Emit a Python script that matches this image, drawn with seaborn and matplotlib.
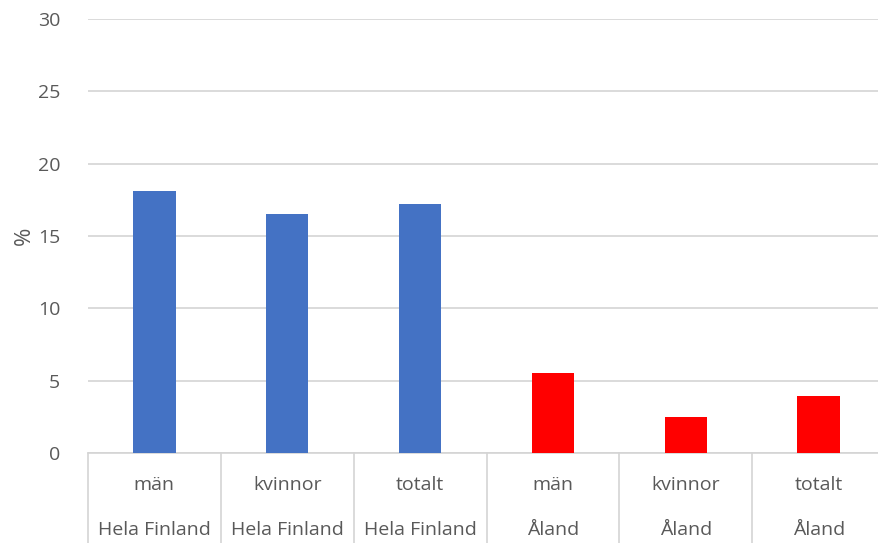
import matplotlib
matplotlib.use("Agg")
import matplotlib.pyplot as plt
import matplotlib.transforms as mtransforms
import pandas as pd
import seaborn as sns

# values
groups = ["män", "kvinnor", "totalt", "män", "kvinnor", "totalt"]
regions = ["Hela Finland", "Hela Finland", "Hela Finland", "Åland", "Åland", "Åland"]
values = [18.1, 16.5, 17.2, 5.5, 2.5, 3.9]
yticks = [0, 5, 10, 15, 20, 25, 30]

COLORS = {"Hela Finland": "#4472C4", "Åland": "#FF0000"}
GREY = "#595959"
FS = 14

sns.set_style("white")
plt.rcParams["font.family"] = ["Open Sans", "DejaVu Sans"]

df = pd.DataFrame({"pos": [str(i) for i in range(len(values))],
                   "grupp": groups, "region": regions, "value": values})

fig = plt.figure(figsize=(8.79, 5.43), dpi=100)
ax = fig.add_axes([0.100, 0.166, 0.907, 0.799])

sns.barplot(data=df, x="pos", y="value", hue="region", palette=COLORS,
            dodge=False, width=0.32, legend=False, ax=ax, zorder=3,
            edgecolor="none", saturation=1)

ax.set_ylim(0, 30)
ax.set_xlim(-0.5, len(values) - 0.5)
ax.set_yticks(yticks)
ax.set_yticklabels([str(t) for t in yticks], fontsize=FS, color=GREY)
ax.grid(axis="y", color="#d4d4d4", linewidth=1.2, zorder=0)
ax.tick_params(axis="y", length=0, pad=20)
ax.tick_params(axis="x", length=0, labelbottom=False)
for side in ["top", "right", "left"]:
    ax.spines[side].set_visible(False)
ax.spines["bottom"].set_color("#d4d4d4")
ax.spines["bottom"].set_linewidth(1.2)
ax.set_xlabel("")
ax.set_ylabel("%", fontsize=16, color=GREY, labelpad=2)

# two-level category axis
trans = mtransforms.blended_transform_factory(ax.transData, ax.transAxes)
for i, (g, r) in enumerate(zip(groups, regions)):
    ax.text(i, -0.074, g, transform=trans, ha="center", va="center",
            fontsize=FS, color=GREY)
    ax.text(i, -0.177, r, transform=trans, ha="center", va="center",
            fontsize=FS, color=GREY)
for b in range(len(values) + 1):
    ax.plot([b - 0.5, b - 0.5], [0, -0.21], transform=trans, color="#d4d4d4",
            linewidth=1.2, clip_on=False)

fig.savefig("out.png", dpi=100)
